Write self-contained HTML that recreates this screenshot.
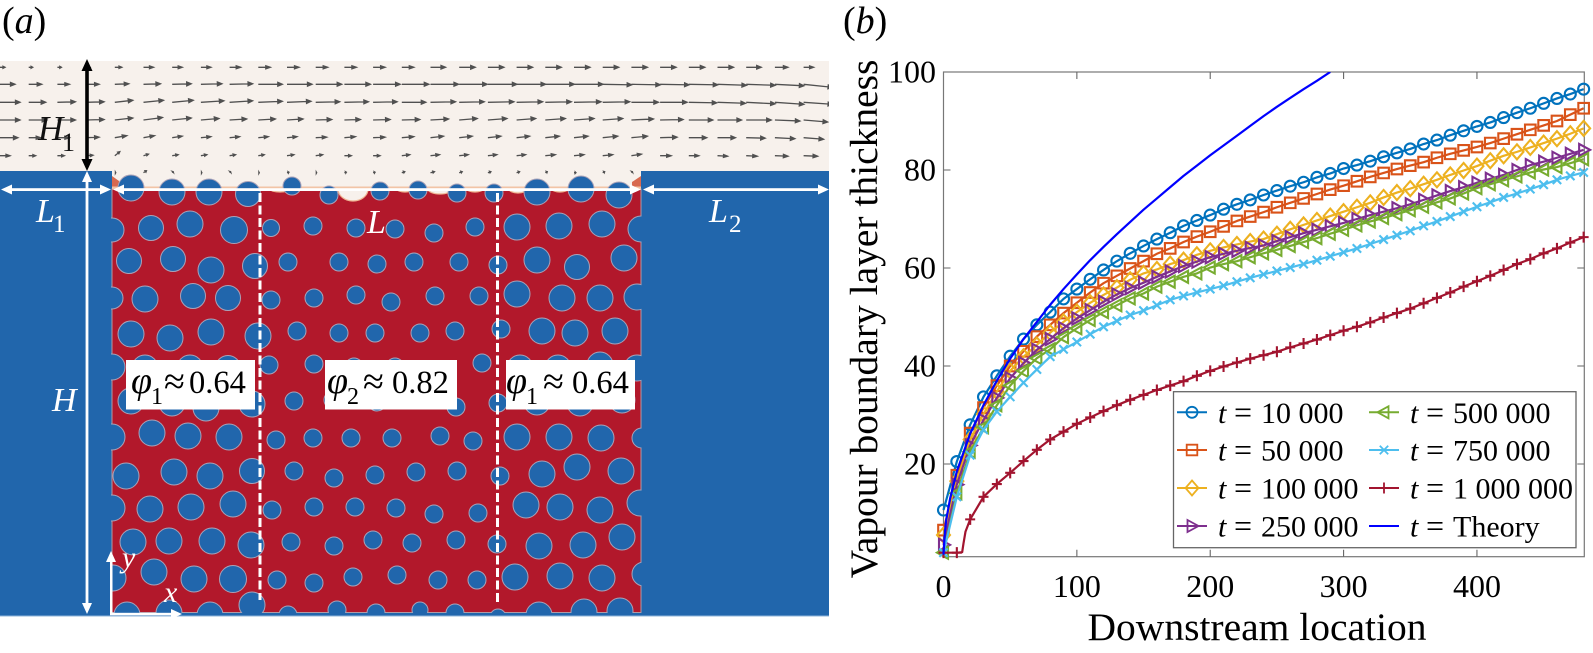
<!DOCTYPE html>
<html lang="en">
<head>
<meta charset="utf-8">
<title>Vapour boundary layer figure</title>
<style>
html,body{margin:0;padding:0;background:#fff;width:1593px;height:653px;overflow:hidden}
svg{display:block}
text{font-family:"Liberation Serif","DejaVu Serif",serif}
.i{font-style:italic}
</style>
</head>
<body>
<svg id="fig" xmlns="http://www.w3.org/2000/svg" width="1593" height="653" viewBox="0 0 1593 653">
  <defs>
    <clipPath id="poreClip"><rect x="111" y="165" width="530.5" height="448"/></clipPath>
    <clipPath id="flowClip"><rect x="0" y="61" width="829" height="130"/></clipPath>
    <clipPath id="plotClip"><rect x="930" y="72" width="655" height="492"/></clipPath>
  </defs>

  <text x="2" y="33" font-size="38">(<tspan class="i">a</tspan>)</text>
  <text x="843" y="33" font-size="38">(<tspan class="i">b</tspan>)</text>

  <g id="panelA">
    <rect x="0" y="61" width="829" height="131" fill="#f7f1ec"/>
    <rect x="0" y="171" width="112" height="445" fill="#2166ac"/>
    <rect x="641" y="171" width="188" height="445" fill="#2166ac"/>
    <rect x="0" y="612" width="829" height="4.5" fill="#2166ac"/>
    <rect x="0" y="615.5" width="829" height="1" fill="#8fb4da"/>
    <path d="M112 176 L119 181 L119 190 L112 190Z" fill="#d8694f"/>
    <path d="M641 176 L632 182 L632 190 L641 190Z" fill="#d8694f"/>
    <rect x="112" y="189" width="529" height="423.5" fill="#b2182b" stroke="#b09aa6" stroke-width="1"/>
    <rect x="112" y="186.5" width="529" height="3" fill="#f2c4a6"/>
    <g id="scoops"></g>
    <g id="pores" clip-path="url(#poreClip)"></g>
    <g id="flow" clip-path="url(#flowClip)"></g>

    <line x1="260" y1="193" x2="260" y2="600" stroke="#fff" stroke-width="3" stroke-dasharray="9 3.5"/>
    <line x1="497.5" y1="193" x2="497.5" y2="605" stroke="#fff" stroke-width="3" stroke-dasharray="9 3.5"/>

    <g fill="#fff" stroke="none">
      <rect x="8" y="188.2" width="96" height="2.8"/>
      <path d="M1 189.5 L12 184.5 L12 194.5Z M111 189.5 L100 184.5 L100 194.5Z"/>
    </g>
    <g fill="#fff">
      <rect x="120" y="188.2" width="514" height="2.8"/>
      <path d="M113 189.5 L124 184.5 L124 194.5Z M641 189.5 L630 184.5 L630 194.5Z"/>
    </g>
    <g fill="#fff">
      <rect x="650" y="188.2" width="172" height="2.8"/>
      <path d="M643 189.5 L654 184.5 L654 194.5Z M829 189.5 L818 184.5 L818 194.5Z"/>
    </g>
    <g fill="#fff">
      <rect x="85.6" y="178" width="2.8" height="428"/>
      <path d="M87 171 L82 182 L92 182Z M87 614 L82 603 L92 603Z"/>
    </g>
    <g fill="#000">
      <rect x="85.2" y="66" width="3.6" height="98"/>
      <path d="M87 59 L81.5 71 L92.5 71Z M87 171 L81.5 159 L92.5 159Z"/>
    </g>
    <g fill="#fff">
      <rect x="110" y="558" width="2.5" height="57"/>
      <rect x="110" y="612.8" width="66" height="2.5"/>
      <path d="M111 551 L106 562 L116 562Z M182 614 L171 609 L171 619Z"/>
    </g>

    <text x="38" y="140" font-size="35" class="i" fill="#111">H</text>
    <text x="62" y="151" font-size="26" fill="#111">1</text>
    <text x="36" y="222" font-size="34" class="i" fill="#fff">L</text>
    <text x="53" y="232" font-size="25" fill="#fff">1</text>
    <text x="367" y="233" font-size="34" class="i" fill="#fff">L</text>
    <text x="709" y="222" font-size="34" class="i" fill="#fff">L</text>
    <text x="729" y="232" font-size="25" fill="#fff">2</text>
    <text x="52" y="411" font-size="34" class="i" fill="#fff">H</text>
    <text x="122" y="567" font-size="30" class="i" fill="#fff">y</text>
    <text x="164" y="602" font-size="30" class="i" fill="#fff">x</text>

    <g>
      <rect x="126" y="360" width="129" height="49.5" fill="#fff"/>
      <text x="131" y="393" font-size="38" class="i">φ</text>
      <text x="151" y="404" font-size="24">1</text>
      <text x="164" y="394" font-size="38">≈</text>
      <text x="189" y="393" font-size="32.5">0.64</text>
    </g>
    <g>
      <rect x="325" y="360" width="132" height="49.5" fill="#fff"/>
      <text x="327" y="393" font-size="38" class="i">φ</text>
      <text x="347" y="404" font-size="24">2</text>
      <text x="363" y="394" font-size="38">≈</text>
      <text x="392" y="393" font-size="32.5">0.82</text>
    </g>
    <g>
      <rect x="506" y="360" width="129" height="49.5" fill="#fff"/>
      <text x="506" y="393" font-size="38" class="i">φ</text>
      <text x="526" y="404" font-size="24">1</text>
      <text x="543" y="394" font-size="38">≈</text>
      <text x="572" y="393" font-size="32.5">0.64</text>
    </g>
  </g>

  <g id="panelB">
    <rect x="943.5" y="72" width="640.8" height="484.7" fill="#fff" stroke="#777" stroke-width="1.2"/>
    <g id="ticks"></g>
    <g id="series"></g>
    <text transform="translate(877,319) rotate(-90)" text-anchor="middle" font-size="39.5">Vapour boundary layer thickness</text>
    <text x="1257" y="640" text-anchor="middle" font-size="39.5">Downstream location</text>
    <g id="legendBox">
      <rect x="1173.5" y="391.7" width="402.5" height="156" fill="#fff" stroke="#666" stroke-width="1.3"/>
    </g>
  </g>
</svg>

<script>
// ---------- Panel (b) chart data ----------
const xValues = [0,10,20,30,40,50,60,70,80,90,100,110,120,130,140,150,160,170,180,190,200,210,220,230,240,250,260,270,280,290,300,310,320,330,340,350,360,370,380,390,400,410,420,430,440,450,460,470,480];
const t10000 = [10.6,20.5,28,33.7,38,42,45.5,48.4,51,53.7,55.7,57.7,59.6,61.4,63,64.5,65.9,67.2,68.6,69.7,70.8,72,73,73.9,74.9,75.8,76.7,77.5,78.5,79.3,80.3,81,81.8,82.7,83.5,84.3,85.3,86.1,87.1,88,88.9,89.7,90.7,91.7,92.6,93.6,94.6,95.5,96.5];
const t50000 = [6.5,17.7,26.3,31.5,36,40,43,46,48.4,50.8,52.9,55,56.9,58.4,59.9,61.4,62.9,64,65.3,66.4,67.4,68.5,69.6,70.5,71.4,72.4,73.3,74.2,75.1,76,76.8,77.7,78.6,79.4,80.2,80.9,81.6,82.5,83.3,84,84.7,85.5,86.4,87.3,88.2,89.1,90,91.3,92.6];
const t100000 = [5.5,16.5,25,30.2,34.8,39,41.9,44.3,46.8,49,51,52.9,54.5,56,57.6,58.9,59.7,60.8,61.6,62.7,63.5,64.2,64.8,65.4,65.9,66.9,67.9,68.8,69.7,70.6,71.5,72.4,73.3,74.4,75.4,76.2,77.1,78,79,79.9,80.8,81.9,82.9,83.7,84.6,85.5,86.4,87.4,88.5];
const t250000 = [3.5,15.8,23.8,29,33.5,37.5,40.6,43.3,45.5,47.7,49.7,51.4,53.1,54.6,55.9,57,58.2,59.3,60.4,61.3,62.2,62.9,63.5,64.1,64.6,65.5,66.3,67.1,67.8,68.5,69.2,70,70.8,71.5,72.2,73,73.9,74.8,75.7,76.5,77.4,78.2,79,80,81,81.7,82.5,83.3,84.1];
const t500000 = [1.9,14,22.5,27.5,32,36,39,41.6,43.4,45.9,47.7,49.4,51,52.4,53.8,54.8,56.2,57.2,58.2,58.9,60.1,60.8,61.4,62.2,63,63.7,64.5,65.3,66.1,67,67.8,68.7,69.5,70.2,71,71.8,72.5,73.4,74.2,75.2,76.3,77.1,77.9,78.7,79.5,80.1,80.6,81.4,82.2];
const t750000 = [1.9,13.3,21.8,27,30.7,33.7,36.6,39.3,41.9,43.4,44.9,46.5,48,49.2,50.4,51.3,52.4,53.5,54.3,55,55.7,56.4,57.2,58,58.7,59.4,60.1,60.8,61.6,62.4,63.2,64,64.9,65.8,66.7,67.6,68.6,69.5,70.5,71.5,72.5,73.4,74.4,75.2,76.1,77,78,78.8,79.5];
const t1000000 = [1.9,1.9,8.7,13.3,15.9,18.2,20.6,22.9,25,26.6,28.2,29.5,30.8,32,33.1,34.1,35.1,36,36.9,38,39,39.9,40.7,41.5,42.2,42.9,43.8,44.6,45.4,46.3,47.2,48,48.9,49.9,50.8,51.7,52.8,53.9,55,56.2,57.3,58.4,59.6,60.8,61.8,63,64,65.2,66.3];
const elbowX = [14,15,16.5];
const elbowV = [2,3.8,6.2];
const theoryX = [0,1,2,5,10,20,30,40,50,60,70,80,90,100,110,120,130,140,150,160,170,180,190,200,210,220,230,240,250,260,270,280,290];
const theoryV = [1.5,6,8.5,13,18.5,26.2,32,37,41.5,45.5,49,52.5,55.7,58.7,61.6,64.3,66.9,69.4,71.9,74.2,76.5,78.8,80.9,83,85,87,89,91,92.9,94.7,96.5,98.2,100];
const xTicks = [0,100,200,300,400];
const yTicks = [20,40,60,80,100];
const seriesColors = ['#0072BD','#D95319','#EDB120','#7E2F8E','#77AC30','#4DBEEE','#A2142F'];
const seriesMarkers = ['circle','square','diamond','right','left','cross','plus'];
const seriesLabels = ['10 000','50 000','100 000','250 000','500 000','750 000','1 000 000'];
const seriesValues = [t10000,t50000,t100000,t250000,t500000,t750000,t1000000];

// ---------- Panel (a) data ----------
const poreX = [131,172,209,248,292,329,380,418,457,494,537,581,619, 112,151,190,234,271,313,356,395,434,475,517,559,602,641, 129,173,211,255,288,339,377,414,459,498,537,577,624, 112,145,193,228,271,314,356,391,435,479,517,562,600,637, 131,170,211,258,297,339,375,420,455,501,542,575,615, 112,145,190,228,269,314,354,395,482,520,558,600,637, 131,172,206,252,294,333,377,416,456,498,537,580,622, 112,152,188,229,276,313,351,392,440,473,517,559,601,642, 126,174,210,252,294,334,375,416,457,500,542,577,621, 112,150,191,233,272,314,355,396,434,478,526,560,600,640, 133,169,212,251,291,334,373,412,456,497,539,583,622, 113,154,194,233,277,314,353,397,438,477,515,560,602,644, 127,169,210,252,288,337,376,420,455,498,539,584,620];
const poreY = [188,192,192,194,186,195,191,190,193,193,192,189,195, 230,228,224,230,228,226,228,229,233,227,227,226,224,229, 261,259,270,266,262,262,264,262,262,265,260,267,258, 298,299,296,298,300,298,295,302,296,296,294,298,298,297, 334,338,332,336,331,333,333,333,331,329,331,333,331, 367,368,368,368,365,364,367,367,363,368,368,365,368, 401,403,408,404,401,400,402,400,407,403,402,403,400, 437,433,436,437,440,438,438,438,436,441,437,437,438,438, 476,472,476,471,471,478,475,472,471,476,474,467,471, 508,509,507,504,510,507,507,508,514,513,505,507,510,503, 542,541,541,545,542,546,540,543,540,544,546,545,537, 578,572,579,579,580,583,577,575,580,580,577,576,578,574, 615,613,615,605,615,610,613,610,613,617,615,612,611];
const poreR = [13,13,13,12.5,9,9,9,9,9,9,13,13,13, 12,12.5,13,13.5,8.5,9,9,9,9,9,13,13,13,13, 12.5,12.5,13,12.5,9,9,9,9,9,9,13,12.5,13, 11,13,12.5,12.5,9,9,9,9,9,9,13,13,13,13, 13,13,13,13,9,9,9,9,9,9,13,13,13, 13,13,13,12.5,9,9,9,9,9,13,13,13,13, 13,13,13,13,9,9,9,9,9,9,13,13,13, 13,13,13,13,9,9,9,9,9,9,13,13,13,10, 13,13,13,12.5,9,9,9,9,9,9,13,13,13, 13,13,13,13,9,9,9,9,9,9,13,13,13,13, 13,13,13,13,9,9,9,9,9,9,13,13,13, 13,13,13,13.5,9,9,9,9,9,9,13,13,13,12, 13,13,13,13,9,9,9,8,9,8,13,13,13];
const scoopX = [353,280,440,475,405,518,560];
const scoopW = [15,10,12,8,8,9,8];
const scoopH = [12,3,5,3,3,4,3];

const flowRowY = [67.3,84.3,102.3,120,137.7,155.7,172.7];
const flowLen = [
 [5,4,4,4,7,10,10,10,11,12,12,12,12,12,12,15,16,16,16,16,16,16,16,16,16,16,15,13,10],
 [15,13,12,13,14,17,19,21,23,24,25,26,26,27,27,28,28,29,29,29,29,29,29,29,29,29,29,29,29],
 [20,17,18,18,18,20,21,23,23,24,24,24,24,24,24,25,25,26,26,26,27,27,27,27,28,28,29,29,29],
 [20,18,18,18,18,19,19,18,17,17,16,16,16,17,18,18,18,19,19,20,20,20,22,23,24,24,25,25,24],
 [18,12,12,13,12,11,10,10,10,10,10,11,11,12,12,13,13,13,13,14,14,15,16,17,18,18,19,20,20],
 [10,7,7,7,5,5,6,6,6,6,7,7,7,7,8,9,9,9,9,10,10,10,10,11,10,10,11,13,14],
 [0,0,0,0,1,3,1,1,1,1,2,1,2,2,3,4,3,3,3,2,2,2,1,0,0,0,0,0,0]
];
const flowRise = [
 [0,0,0,0,0,0,0,0,0,0,0,0,0,0,0,0,0,0,0,0,0,0,0,0,0,0,0,0,0],
 [0,0,0,0,0.5,0.5,0.5,0.5,0.5,0,0,0,0,0,0,0,0,0,0,0,0,-0.5,-0.5,-0.5,-0.5,-1,-1,-1.5,-3],
 [0,0,0.5,0.5,2,2,2,1.5,1.5,1,1,0.5,0.5,0.5,0,0.5,0.5,0.5,0.5,0.5,0.5,0.5,0,0,-0.5,-1,-1.5,-2,-2],
 [0,0,0,0.5,2,2.5,2,1.5,1,1,1,0.5,0.5,0.5,0.5,1,1.5,1.5,1.5,1.5,1.5,1.5,1,0.5,0,0,0,-1,-2],
 [0,0,0,0.5,2,2,1.5,1,1,1,1,0.5,1,0.5,1,1.5,1.5,1.5,1.5,1.5,1.5,1.5,1.5,0.5,0,0,-0.5,-1,-1.5],
 [0,0,0,0.5,4,1.5,1,1,1,1,1,1,0,0,1,1,1,1,1,1,1,1,1.5,0,0,-0.5,-0.5,-0.5,-0.5],
 [0,0,0,0,0,2,1,0,1,0,0.5,0,0.5,0.5,1,1,1,1,1,1,0,1,1,0,0,0,0,0,0]
];

// ---------- helpers ----------
const NS = 'http://www.w3.org/2000/svg';
const xScale = v => 943.5 + (v - 0) * (1584.3 - 943.5) / 480.5;
const yScale = v => 556.7 - (v - 1.08) * (556.7 - 72) / (100 - 1.08);
function make(tag, attrs, parent){
  const el = document.createElementNS(NS, tag);
  for (const k in attrs) el.setAttribute(k, attrs[k]);
  parent.appendChild(el);
  return el;
}
function markerPath(type, cx, cy){
  switch(type){
    case 'square': return `M${cx-5.3} ${cy-5.3}h10.6v10.6h-10.6Z`;
    case 'diamond': return `M${cx} ${cy-7.5}L${cx+6.5} ${cy}L${cx} ${cy+7.5}L${cx-6.5} ${cy}Z`;
    case 'right': return `M${cx-4.5} ${cy-6}L${cx+6.5} ${cy}L${cx-4.5} ${cy+6}Z`;
    case 'left': return `M${cx+4.5} ${cy-6}L${cx-6.5} ${cy}L${cx+4.5} ${cy+6}Z`;
    case 'cross': return `M${cx-4.2} ${cy-4.2}L${cx+4.2} ${cy+4.2}M${cx-4.2} ${cy+4.2}L${cx+4.2} ${cy-4.2}`;
    case 'plus': return `M${cx-5} ${cy}H${cx+5}M${cx} ${cy-5.5}V${cy+5.5}`;
  }
  return `M${cx-5.5} ${cy}a5.5 5.5 0 1 0 11 0a5.5 5.5 0 1 0 -11 0Z`;
}

// ---------- panel (a) drawing ----------
const scoopsG = document.getElementById('scoops');
scoopX.forEach((sx, i) => {
  const el = make('path', {d:`M${sx - scoopW[i]} 189A${scoopW[i]} ${scoopH[i]} 0 0 0 ${sx + scoopW[i]} 189Z`, fill:'#f7f1ec', stroke:'#f0b795', 'stroke-width':1.2}, scoopsG);
  
  
});
const poresG = document.getElementById('pores');
poreX.forEach((px, i) => {
  const el = make('circle', {cx:px, cy:poreY[i], r:poreR[i], fill:'#2166ac', stroke:'#a9a2b8', 'stroke-width':1}, poresG);
  
  
});
const flowG = document.getElementById('flow');
flowRowY.forEach((ry, r) => {
  flowLen[r].forEach((len, c) => {
    if (!len) return;
    const x0 = c * 28.7, y0 = ry, rise = flowRise[r][c];
    const x1 = x0 + len, y1 = y0 - rise;
    const n = Math.hypot(len, rise), ux = len / n, uy = -rise / n;
    const head = Math.min(4.5, len * 0.4), w = Math.min(1.9, 0.6 + len * 0.08);
    const bx = x1 - ux * head, by = y1 - uy * head;
    const el = make('path', {
      d:`M${x0} ${y0}L${bx} ${by}M${x1} ${y1}L${bx - uy * w} ${by + ux * w}L${bx + uy * w} ${by - ux * w}Z`,
      fill:'#505050', stroke:'#505050', 'stroke-width':1.3
    }, flowG);
    
    
  });
});

// ---------- panel (b) drawing ----------
const ticksG = document.getElementById('ticks');
xTicks.forEach(t => {
  const x = xScale(t);
  if (t !== 0) {
    const a = make('path', {d:`M${x} 556.7v-7M${x} 72v7`, stroke:'#666', 'stroke-width':1.1, fill:'none'}, ticksG);
    
    
  }
  const l = make('text', {x:x, y:597, 'text-anchor':'middle', 'font-size':32}, ticksG);
  
  
  l.textContent = t;
});
yTicks.forEach(t => {
  const y = yScale(t);
  if (t !== 100) {
    const a = make('path', {d:`M943.5 ${y}h7M1584.3 ${y}h-7`, stroke:'#666', 'stroke-width':1.1, fill:'none'}, ticksG);
    
    
  }
  const l = make('text', {x:936, y:y + 10.5, 'text-anchor':'end', 'font-size':32}, ticksG);
  
  
  l.textContent = t;
});

const seriesG = document.getElementById('series');
seriesValues.forEach((vals, s) => {
  const g = make('g', {}, seriesG);
  
  
  let pts = xValues.map((x, i) => [x, vals[i]]);
  if (s === 6) {
    const extra = elbowX.map((x, i) => [x, elbowV[i]]);
    pts = pts.concat(extra).sort((a, b) => a[0] - b[0]);
  }
  const line = make('polyline', {
    points: pts.map(p => xScale(p[0]) + ',' + yScale(p[1])).join(' '),
    fill:'none', stroke:seriesColors[s], 'stroke-width':2.2, 'stroke-linejoin':'round'
  }, g);
  
  
  xValues.forEach((x, i) => {
    const m = make('path', {d:markerPath(seriesMarkers[s], xScale(x), yScale(vals[i])), fill:'none', stroke:seriesColors[s], 'stroke-width':2.1}, g);
    
    
  });
});
const theoryLine = make('polyline', {
  points: theoryX.map((x, i) => xScale(x) + ',' + yScale(theoryV[i])).join(' '),
  fill:'none', stroke:'#0000FF', 'stroke-width':2.2, 'stroke-linejoin':'round', 'clip-path':'url(#plotClip)'
}, seriesG);



// ---------- legend ----------
const legendG = document.getElementById('legendBox');
const rowY = [412.3, 450, 488, 526];
const legendLabels = seriesLabels.concat(['Theory']);
legendLabels.forEach((lab, i) => {
  const col = i < 4 ? 0 : 1;
  const y = rowY[i % 4];
  const lx = col ? 1369 : 1177;
  const g = make('g', {}, legendG);
  
  
  const color = i < 7 ? seriesColors[i] : '#0000FF';
  make('line', {x1:lx, x2:lx + 30, y1:y, y2:y, stroke:color, 'stroke-width':2}, g);
  if (i < 7) make('path', {d:markerPath(seriesMarkers[i], lx + 15, y), fill:'none', stroke:color, 'stroke-width':1.8}, g);
  const tx = lx + 41;
  const t1 = make('text', {x:tx, y:y + 10.5, 'font-size':30, 'font-style':'italic'}, g);
  t1.textContent = 't';
  const t2 = make('text', {x:tx + 16, y:y + 10.5, 'font-size':32}, g);
  t2.textContent = '=';
  const t3 = make('text', {x:tx + 43, y:y + 10.5, 'font-size':30}, g);
  t3.textContent = lab;
});
</script>
</body>
</html>
